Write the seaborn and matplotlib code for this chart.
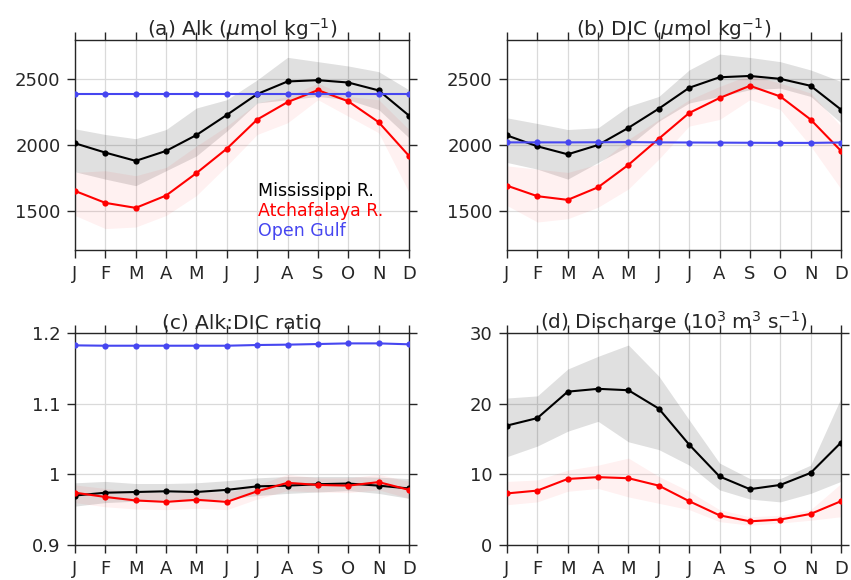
import numpy as np
import pandas as pd
import matplotlib
matplotlib.use("Agg")
import matplotlib.pyplot as plt
import seaborn as sns

months = ["J", "F", "M", "A", "M", "J", "J", "A", "S", "O", "N", "D"]
month_idx = list(range(1, 13))

# (a) Alkalinity
alk_miss = [2013, 1942, 1879, 1955, 2076, 2229, 2388, 2484, 2494, 2476, 2416, 2224]
alk_miss_hi = [2123, 2080, 2048, 2118, 2282, 2345, 2496, 2668, 2635, 2602, 2559, 2420]
alk_miss_lo = [1796, 1740, 1690, 1804, 1917, 2106, 2320, 2345, 2370, 2345, 2270, 2055]
alk_atch = [1650, 1559, 1521, 1615, 1786, 1972, 2194, 2327, 2418, 2333, 2174, 1917]
alk_atch_hi = [1791, 1804, 1766, 1829, 1992, 2144, 2320, 2370, 2471, 2370, 2345, 2118]
alk_atch_lo = [1463, 1363, 1375, 1463, 1615, 1841, 2080, 2169, 2345, 2219, 2093, 1640]
alk_gulf = [2386, 2386, 2386, 2386, 2386, 2386, 2386, 2386, 2386, 2386, 2386, 2386]

# (b) DIC
dic_miss = [2073, 1990, 1929, 2000, 2131, 2277, 2436, 2516, 2526, 2504, 2451, 2270]
dic_miss_hi = [2207, 2164, 2118, 2131, 2295, 2370, 2572, 2693, 2667, 2635, 2572, 2484]
dic_miss_lo = [1867, 1816, 1740, 1867, 1992, 2181, 2320, 2370, 2421, 2433, 2370, 2169]
dic_atch = [1690, 1610, 1582, 1678, 1849, 2048, 2244, 2358, 2451, 2370, 2194, 1955]
dic_atch_hi = [1841, 1816, 1791, 1854, 2043, 2194, 2345, 2446, 2534, 2471, 2396, 2144]
dic_atch_lo = [1539, 1413, 1438, 1526, 1665, 1892, 2144, 2194, 2345, 2270, 1992, 1665]
dic_gulf = [2020, 2020, 2020, 2021, 2022, 2020, 2019, 2018, 2017, 2016, 2016, 2019]

# (c) Alk:DIC ratio
rat_miss = [0.970, 0.974, 0.975, 0.976, 0.975, 0.978, 0.983, 0.984, 0.986, 0.987, 0.984, 0.980]
rat_miss_hi = [0.988, 0.990, 0.987, 0.987, 0.988, 0.991, 0.995, 0.997, 0.997, 0.997, 0.996, 0.994]
rat_miss_lo = [0.955, 0.960, 0.962, 0.964, 0.962, 0.965, 0.970, 0.973, 0.975, 0.977, 0.973, 0.966]
rat_atch = [0.974, 0.968, 0.963, 0.961, 0.964, 0.961, 0.976, 0.988, 0.985, 0.984, 0.989, 0.978]
rat_atch_hi = [0.985, 0.980, 0.975, 0.974, 0.976, 0.974, 0.985, 1.000, 0.995, 0.995, 1.000, 0.990]
rat_atch_lo = [0.960, 0.954, 0.951, 0.950, 0.952, 0.950, 0.965, 0.977, 0.975, 0.974, 0.978, 0.966]
rat_gulf = [1.1825, 1.182, 1.182, 1.182, 1.182, 1.182, 1.183, 1.1835, 1.1844, 1.1853, 1.1853, 1.184]

# (d) Discharge
dis_miss = [16.9, 17.96, 21.7, 22.1, 21.9, 19.3, 14.2, 9.7, 7.9, 8.5, 10.2, 14.5]
dis_miss_hi = [20.8, 21.1, 24.9, 26.7, 28.3, 23.9, 17.7, 11.6, 9.4, 9.4, 11.3, 20.8]
dis_miss_lo = [12.5, 14.0, 16.1, 17.5, 14.6, 13.5, 11.3, 7.8, 6.5, 6.1, 7.3, 9.0]
dis_atch = [7.3, 7.7, 9.35, 9.6, 9.45, 8.4, 6.2, 4.2, 3.35, 3.6, 4.4, 6.2]
dis_atch_hi = [9.0, 9.2, 10.6, 11.3, 12.3, 9.7, 7.6, 5.0, 4.0, 4.2, 5.0, 8.7]
dis_atch_lo = [5.7, 6.1, 7.6, 8.0, 6.8, 5.9, 5.0, 3.3, 2.8, 3.1, 3.5, 4.0]

series_names = ["Mississippi R.", "Atchafalaya R.", "Open Gulf"]
titles = [r"(a) Alk ($\mathit{\mu}$mol kg$^{-1}$)",
          r"(b) DIC ($\mathit{\mu}$mol kg$^{-1}$)",
          "(c) Alk:DIC ratio",
          r"(d) Discharge (10$^{3}$ m$^{3}$ s$^{-1}$)"]

sns.set_style("white")
plt.rcParams["font.family"] = ["DejaVu Sans"]
plt.rcParams["mathtext.default"] = "regular"
plt.rcParams["axes.unicode_minus"] = False

C_BLACK = "#000000"
C_RED = "#ff0000"
C_BLUE = "#4646f0"
TXT = "#262626"

fig = plt.figure(figsize=(8.51, 5.80), dpi=100)
W, H = 851, 580

def make_ax(left, top, right, bottom):
    return fig.add_axes([left / W, 1 - bottom / H, (right - left) / W, (bottom - top) / H])

ax_a = make_ax(75, 40, 409, 250)
ax_b = make_ax(507, 40, 841, 250)
ax_c = make_ax(75, 333, 409, 545)
ax_d = make_ax(507, 333, 841, 545)

panels = [
    (ax_a, [(alk_miss, alk_miss_lo, alk_miss_hi), (alk_atch, alk_atch_lo, alk_atch_hi), (alk_gulf, None, None)],
     (1200, 2800), [1500, 2000, 2500], ["1500", "2000", "2500"]),
    (ax_b, [(dic_miss, dic_miss_lo, dic_miss_hi), (dic_atch, dic_atch_lo, dic_atch_hi), (dic_gulf, None, None)],
     (1200, 2800), [1500, 2000, 2500], ["1500", "2000", "2500"]),
    (ax_c, [(rat_miss, rat_miss_lo, rat_miss_hi), (rat_atch, rat_atch_lo, rat_atch_hi), (rat_gulf, None, None)],
     (0.9, 1.2), [0.9, 1.0, 1.1, 1.2], ["0.9", "1", "1.1", "1.2"]),
    (ax_d, [(dis_miss, dis_miss_lo, dis_miss_hi), (dis_atch, dis_atch_lo, dis_atch_hi)],
     (0, 30), [0, 10, 20, 30], ["0", "10", "20", "30"]),
]

colors = [C_BLACK, C_RED, C_BLUE]
band_alpha = [0.12, 0.055, 0]

for i, (ax, series, ylim, yt, ytl) in enumerate(panels):
    for j, (vals, lo, hi) in enumerate(series):
        if lo is not None:
            ax.fill_between(month_idx, lo, hi, color=colors[j], alpha=band_alpha[j], linewidth=0, zorder=1)
    for j, (vals, lo, hi) in enumerate(series):
        df = pd.DataFrame({"month": month_idx, "value": vals})
        sns.lineplot(data=df, x="month", y="value", ax=ax, color=colors[j], marker="o",
                     markersize=4.5, markeredgewidth=0, linewidth=1.5, zorder=3 + j)
    ax.set_xlim(1, 12)
    ax.set_ylim(*ylim)
    ax.set_xticks(month_idx)
    ax.set_xticklabels(months)
    ax.set_yticks(yt)
    ax.set_yticklabels(ytl)
    ax.set_xlabel("")
    ax.set_ylabel("")
    ax.grid(True, color="#dadada", linewidth=0.9)
    ax.set_axisbelow(True)
    for sp in ax.spines.values():
        sp.set_visible(True)
        sp.set_color(TXT)
        sp.set_linewidth(1.0)
    ax.tick_params(axis="both", direction="out", length=5.5, width=1.0, color=TXT,
                   labelcolor=TXT, labelsize=13, top=True, right=True,
                   labeltop=False, labelright=False, bottom=True, left=True, pad=5.0)
    ax.text(0.5, 1.0 + 4 / 210, titles[i], transform=ax.transAxes, ha="center",
            va="baseline", fontsize=14.5, color=TXT, zorder=10)

# legend as coloured text in panel (a)
leg_y = [191, 211, 231]
for j, name in enumerate(series_names):
    fig.text(258 / W, 1 - leg_y[j] / H, name, color=colors[j], fontsize=12.5,
             ha="left", va="center")

fig.savefig("out.png", dpi=100)
